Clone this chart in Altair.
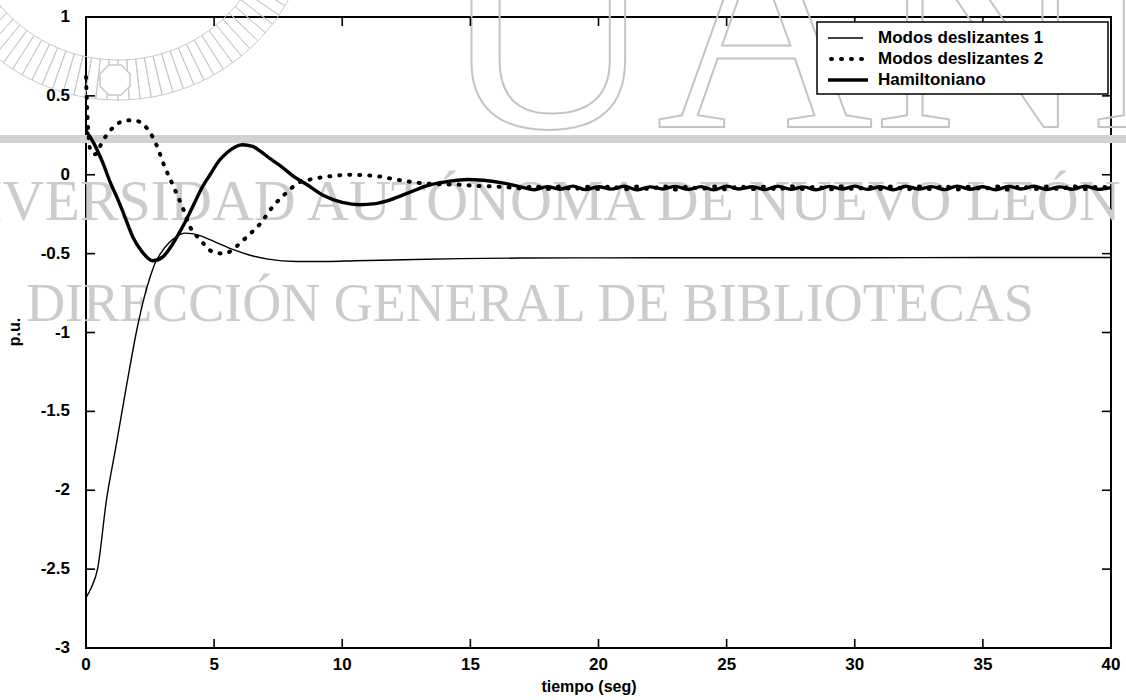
import altair as alt
import pandas as pd

# ---- series: Modos deslizantes 1 (thin solid) ----
md1_t = [0, 0.2, 0.45, 0.8, 1.15, 1.6, 2.0, 2.3, 2.5, 2.7, 2.95, 3.25, 3.55, 3.85,
         4.2, 4.6, 5.1, 5.75, 6.4, 7.1, 8.2, 9.4, 10.5, 12, 14.6, 17, 20, 25, 30, 35, 40]
md1_v = [-2.68, -2.62, -2.50, -2.06, -1.74, -1.32, -0.97, -0.76, -0.65, -0.56, -0.49,
         -0.43, -0.39, -0.37, -0.375, -0.395, -0.43, -0.475, -0.51, -0.535, -0.55,
         -0.55, -0.545, -0.54, -0.532, -0.528, -0.527, -0.526, -0.526, -0.525, -0.525]

# ---- series: Modos deslizantes 2 (dotted) ----
md2_t = [0, 0.05, 0.18, 0.35, 0.67, 1.06, 1.6, 2.0, 2.4, 2.8, 3.0, 3.4, 3.8, 4.06,
         4.45, 4.96, 5.4, 5.9, 6.3, 6.8, 7.3, 7.85, 8.3, 8.75, 9.5, 10.3, 11.4, 12.1,
         12.9, 13.7, 14.5, 15.0, 15.5, 16.0, 16.5,
         17, 17.5, 18, 18.5, 19, 19.5, 20, 20.5, 21, 21.5, 22, 22.5, 23, 23.5, 24, 24.5,
         25, 25.5, 26, 26.5, 27, 27.5, 28, 28.5, 29, 29.5, 30, 30.5, 31, 31.5, 32, 32.5,
         33, 33.5, 34, 34.5, 35, 35.5, 36, 36.5, 37, 37.5, 38, 38.5, 39, 39.5, 40]
md2_v = [0.62, 0.40, 0.15, 0.13, 0.22, 0.30, 0.345, 0.34, 0.29, 0.17, 0.08, -0.07,
         -0.22, -0.33, -0.41, -0.49, -0.50, -0.45, -0.39, -0.31, -0.20, -0.11, -0.05,
         -0.03, -0.01, 0.0, -0.01, -0.03, -0.05, -0.06, -0.062, -0.068, -0.072, -0.075, -0.08,
         -0.086, -0.072, -0.09, -0.074, -0.092, -0.076, -0.09, -0.073, -0.093, -0.075,
         -0.091, -0.072, -0.094, -0.076, -0.09, -0.074, -0.093, -0.073, -0.091, -0.076,
         -0.094, -0.072, -0.09, -0.075, -0.093, -0.074, -0.092, -0.076, -0.09, -0.073,
         -0.094, -0.075, -0.091, -0.072, -0.093, -0.076, -0.09, -0.074, -0.094, -0.073,
         -0.091, -0.075, -0.092, -0.072, -0.09, -0.076, -0.084]

# ---- series: Hamiltoniano (thick solid) ----
ham_t = [0, 0.27, 0.67, 0.95, 1.2, 1.5, 1.84, 2.2, 2.6, 3.0, 3.3, 3.6, 3.9, 4.2, 4.5,
         4.84, 5.2, 5.5, 5.8, 6.1, 6.5, 6.8, 7.2, 7.6, 8.1, 8.6, 9.25, 10.0, 10.7, 11.2,
         11.75, 12.5, 13.4, 14.2, 14.9, 15.5, 16.2,
         17, 17.5, 18, 18.5, 19, 19.5, 20, 20.5, 21, 21.5, 22, 22.5, 23, 23.5, 24, 24.5,
         25, 25.5, 26, 26.5, 27, 27.5, 28, 28.5, 29, 29.5, 30, 30.5, 31, 31.5, 32, 32.5,
         33, 33.5, 34, 34.5, 35, 35.5, 36, 36.5, 37, 37.5, 38, 38.5, 39, 39.5, 40]
ham_v = [0.28, 0.21, 0.07, -0.05, -0.14, -0.26, -0.40, -0.49, -0.545, -0.52, -0.46,
         -0.38, -0.29, -0.19, -0.09, 0.0, 0.09, 0.14, 0.175, 0.19, 0.18, 0.15, 0.10,
         0.055, -0.01, -0.06, -0.13, -0.175, -0.19, -0.185, -0.165, -0.12, -0.065,
         -0.04, -0.03, -0.035, -0.05,
         -0.078, -0.095, -0.075, -0.092, -0.072, -0.094, -0.076, -0.091, -0.073, -0.095,
         -0.077, -0.09, -0.074, -0.093, -0.075, -0.096, -0.072, -0.09, -0.076, -0.094,
         -0.073, -0.092, -0.077, -0.095, -0.074, -0.09, -0.072, -0.093, -0.076, -0.095,
         -0.073, -0.091, -0.075, -0.094, -0.072, -0.092, -0.076, -0.095, -0.074, -0.09,
         -0.073, -0.094, -0.077, -0.092, -0.072, -0.093, -0.082]

x_ticks = [0, 5, 10, 15, 20, 25, 30, 35, 40]
y_ticks = [-3, -2.5, -2, -1.5, -1, -0.5, 0, 0.5, 1]
x_title = "tiempo (seg)"
y_title = "p.u."
legend_labels = ["Modos deslizantes 1", "Modos deslizantes 2", "Hamiltoniano"]
watermark_lines = ["UNIVERSIDAD AUTÓNOMA DE NUEVO LEÓN", "DIRECCIÓN GENERAL DE BIBLIOTECAS"]
watermark_mark = "UANL"
seal_segments = [1] * 110

W, H = 1025, 631
SANS = "Liberation Sans"
SERIF = "Liberation Serif"
WM = "#cccccc"

xs = alt.Scale(domain=[0, 40], nice=False, zero=False)
ys = alt.Scale(domain=[-3, 1], nice=False, zero=False)
one = pd.DataFrame({"k": [0]})


def X(field):
    return alt.X(f"{field}:Q", scale=xs, axis=None)


def Y(field):
    return alt.Y(f"{field}:Q", scale=ys, axis=None)


# ---------- background watermark ----------
seal_hatch = alt.Chart(pd.DataFrame({"seg": seal_segments})).mark_arc(
    radius=195, radius2=155, stroke="#c8c8c8", strokeWidth=1, fillOpacity=0
).encode(theta=alt.Theta("seg:Q", stack=True), x=alt.value(32), y=alt.value(-112))

seal_badge = alt.Chart(one).mark_point(
    shape="M-0.41,-1 L0.41,-1 L1,-0.41 L1,0.41 L0.41,1 L-0.41,1 L-1,0.41 L-1,-0.41 Z",
    size=900, filled=True, fill="white", stroke="#c8c8c8", strokeWidth=1.5, opacity=1
).encode(x=alt.value(29), y=alt.value(63))

bar = alt.Chart(one).mark_rule(color="#d2d2d2", strokeWidth=8).encode(
    x=alt.value(-86), x2=alt.value(1040), y=alt.value(122))

wm_big = alt.Chart(pd.DataFrame({"s": [watermark_mark]})).mark_text(
    font=SERIF, fontSize=300, align="left", baseline="alphabetic",
    fillOpacity=0, stroke="#c4c4c4", strokeWidth=2
).encode(text="s:N", x=alt.value(354), y=alt.value(110))

wm_line1 = alt.Chart(pd.DataFrame({"s": [watermark_lines[0]]})).mark_text(
    font=SERIF, fontSize=58, align="center", baseline="alphabetic", color=WM
).encode(text="s:N", x=alt.value(424), y=alt.value(203))

wm_line2 = alt.Chart(pd.DataFrame({"s": [watermark_lines[1]]})).mark_text(
    font=SERIF, fontSize=54, align="center", baseline="alphabetic", color=WM
).encode(text="s:N", x=alt.value(444), y=alt.value(304))

# ---------- curves ----------
md1 = alt.Chart(pd.DataFrame({"t": md1_t, "v": md1_v})).mark_line(
    color="black", strokeWidth=1.4, interpolate="monotone"
).encode(x=X("t"), y=Y("v"))

md2 = alt.Chart(pd.DataFrame({"t": md2_t, "v": md2_v})).mark_line(
    color="black", strokeWidth=4, strokeDash=[1, 9], strokeCap="round",
    interpolate="monotone"
).encode(x=X("t"), y=Y("v"))

ham = alt.Chart(pd.DataFrame({"t": ham_t, "v": ham_v})).mark_line(
    color="black", strokeWidth=3.4, interpolate="monotone"
).encode(x=X("t"), y=Y("v"))

# ---------- inward ticks on all four sides ----------
ty = pd.DataFrame({"v": y_ticks, "lab": [f"{v:g}" for v in y_ticks]})
tx = pd.DataFrame({"t": x_ticks, "lab": [f"{v:g}" for v in x_ticks]})
tick_style = dict(color="black", strokeWidth=1.6)
left_ticks = alt.Chart(ty).mark_rule(**tick_style).encode(
    y=Y("v"), x=alt.value(0), x2=alt.value(9))
right_ticks = alt.Chart(ty).mark_rule(**tick_style).encode(
    y=Y("v"), x=alt.value(W - 9), x2=alt.value(W))
bottom_ticks = alt.Chart(tx).mark_rule(**tick_style).encode(
    x=X("t"), y=alt.value(H), y2=alt.value(H - 9))
top_ticks = alt.Chart(tx).mark_rule(**tick_style).encode(
    x=X("t"), y=alt.value(0), y2=alt.value(9))

# ---------- tick labels and axis titles ----------
lab_style = dict(font=SANS, fontSize=17, fontWeight="bold", color="black")
y_labels = alt.Chart(ty).mark_text(align="right", baseline="middle", **lab_style).encode(
    y=Y("v"), x=alt.value(-16), text="lab:N")
x_labels = alt.Chart(tx).mark_text(align="center", baseline="middle", **lab_style).encode(
    x=X("t"), y=alt.value(H + 17), text="lab:N")
x_name = alt.Chart(pd.DataFrame({"s": [x_title]})).mark_text(
    align="center", baseline="middle", font=SANS, fontSize=16, fontWeight="bold",
    color="black").encode(text="s:N", x=alt.value(503), y=alt.value(H + 39))
y_name = alt.Chart(pd.DataFrame({"s": [y_title]})).mark_text(
    align="center", baseline="middle", angle=270, font=SANS, fontSize=16,
    fontWeight="bold", color="black").encode(text="s:N", x=alt.value(-71), y=alt.value(315))

# ---------- legend ----------
leg_box = alt.Chart(one).mark_rect(fill="white", stroke="black", strokeWidth=1.5).encode(
    x=alt.value(731), x2=alt.value(1022), y=alt.value(5), y2=alt.value(77))
leg_rows = [21, 42, 63]
leg_s1 = alt.Chart(one).mark_rule(color="black", strokeWidth=1.4).encode(
    x=alt.value(742), x2=alt.value(777), y=alt.value(leg_rows[0]))
leg_s2 = alt.Chart(one).mark_rule(color="black", strokeWidth=4, strokeDash=[1, 9],
                                  strokeCap="round").encode(
    x=alt.value(745), x2=alt.value(778), y=alt.value(leg_rows[1]))
leg_s3 = alt.Chart(one).mark_rule(color="black", strokeWidth=3.4).encode(
    x=alt.value(742), x2=alt.value(782), y=alt.value(leg_rows[2]))
leg_texts = [
    alt.Chart(pd.DataFrame({"s": [lab]})).mark_text(
        font=SANS, fontSize=17, fontWeight="bold", align="left", baseline="middle",
        color="black"
    ).encode(text="s:N", x=alt.value(792), y=alt.value(row))
    for lab, row in zip(legend_labels, leg_rows)
]

chart = alt.layer(
    seal_hatch, seal_badge, bar, wm_big, wm_line1, wm_line2,
    md1, md2, ham,
    left_ticks, right_ticks, bottom_ticks, top_ticks,
    y_labels, x_labels, x_name, y_name,
    leg_box, leg_s1, leg_s2, leg_s3, *leg_texts
).properties(
    width=W, height=H,
    padding={"left": 86, "top": 17, "right": 15, "bottom": 52},
    autosize=alt.AutoSizeParams(type="none"),
    background="white",
).configure_view(stroke="black", strokeWidth=2)

chart.save("out.html", embed_options={"renderer": "svg", "actions": False})
